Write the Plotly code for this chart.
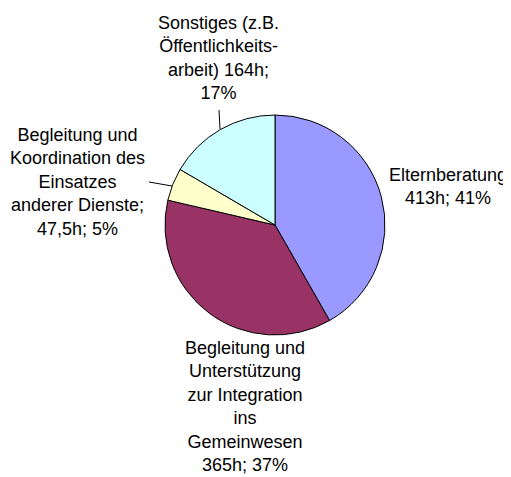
import plotly.graph_objects as go

categories = [
    "Elternberatung",
    "Begleitung und Unterstützung zur Integration ins Gemeinwesen",
    "Begleitung und Koordination des Einsatzes anderer Dienste",
    "Sonstiges (z.B. Öffentlichkeitsarbeit)",
]
hours = [413, 365, 47.5, 164]
label_texts = [
    "Elternberatung<br>413h; 41%",
    "Begleitung und<br>Unterstützung<br>zur Integration<br>ins<br>Gemeinwesen<br>365h; 37%",
    "Begleitung und<br>Koordination des<br>Einsatzes<br>anderer Dienste;<br>47,5h; 5%",
    "Sonstiges (z.B.<br>Öffentlichkeits-<br>arbeit) 164h;<br>17%",
]
colors = ["#9999FF", "#993366", "#FFFFCC", "#CCFFFF"]

# page body has an 8px default margin; the figure is sized to fit the window
OFF = 8
W, H = 511 - OFF, 477 - OFF
cx, cy, r = 275 - OFF, 225 - OFF, 110


def fx(px):
    return (px - OFF) / W


def fy(py):
    return 1 - (py - OFF) / H


fig = go.Figure(go.Pie(
    labels=categories,
    values=hours,
    sort=False,
    direction="clockwise",
    rotation=0,
    textinfo="none",
    hoverinfo="label+value+percent",
    marker=dict(colors=colors, line=dict(color="black", width=1)),
    domain=dict(x=[(cx - r) / W, (cx + r) / W], y=[(H - cy - r) / H, (H - cy + r) / H]),
    showlegend=False,
))

# label positions in page pixels (x, y from top)
label_pos = [(448, 187), (245, 406), (77, 182), (218, 58)]
for txt, (px, py) in zip(label_texts, label_pos):
    fig.add_annotation(
        x=fx(px), y=fy(py), xref="paper", yref="paper",
        text=txt, showarrow=False, xanchor="center", yanchor="middle",
        align="center", font=dict(family="Liberation Sans, Arial, sans-serif", size=18, color="black"),
    )

# leader lines
for (x0, y0, x1, y1) in [(219, 110, 220, 129), (149, 182, 172, 186)]:
    fig.add_shape(type="line", xref="paper", yref="paper",
                  x0=fx(x0), y0=fy(y0), x1=fx(x1), y1=fy(y1),
                  line=dict(color="black", width=1))

fig.update_layout(
    width=W, height=H,
    margin=dict(l=0, r=0, t=0, b=0),
    paper_bgcolor="white", plot_bgcolor="white",
)
fig.write_html("out.html")
